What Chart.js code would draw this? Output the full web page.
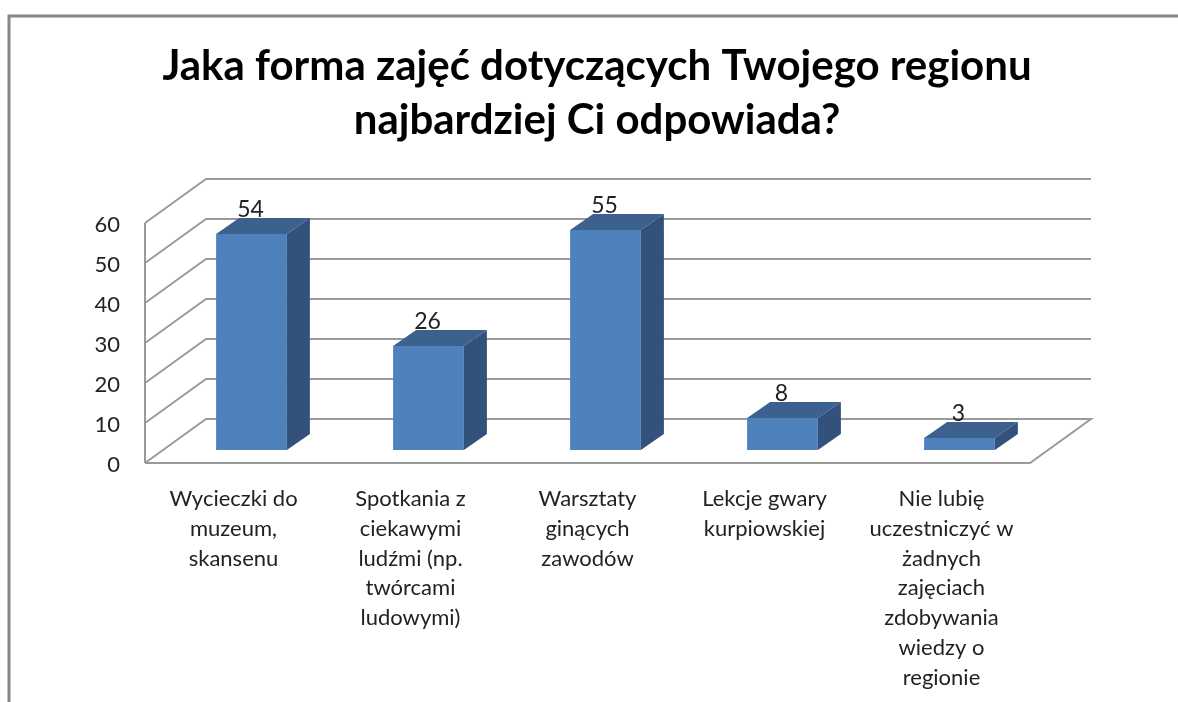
<!DOCTYPE html>
<html lang="pl">
<head>
<meta charset="utf-8">
<title>Jaka forma zajęć</title>
<style>html,body{margin:0;padding:0;background:#fff}canvas{display:block}</style>
<script src="https://cdn.jsdelivr.net/npm/chart.js@4"></script>
</head>
<body>
<canvas id="c" width="1178" height="702"></canvas>
<script>
const categories = [
  ["Wycieczki do", "muzeum,", "skansenu"],
  ["Spotkania z", "ciekawymi", "ludźmi (np.", "twórcami", "ludowymi)"],
  ["Warsztaty", "ginących", "zawodów"],
  ["Lekcje gwary", "kurpiowskiej"],
  ["Nie lubię", "uczestniczyć w", "żadnych", "zajęciach", "zdobywania", "wiedzy o", "regionie"]
];
const values = [54, 26, 55, 8, 3];
const titleLines = ["Jaka forma zajęć dotyczących Twojego regionu", "najbardziej Ci odpowiada?"];

const FONT = "Lato, 'Open Sans', sans-serif";
const GRID = "#9a9a9a", FRAME = "#868686";
const WALL = {dx: 61, dy: -44};
const BAR_SHIFT = {dx: 18, dy: -13};
const BAR_DEPTH = {dx: 23, dy: -16};

function poly(ctx, pts, fill) {
  ctx.beginPath();
  pts.forEach((p, i) => i ? ctx.lineTo(p[0], p[1]) : ctx.moveTo(p[0], p[1]));
  ctx.closePath();
  ctx.fillStyle = fill;
  ctx.fill();
}

const scene = {
  id: "scene",
  beforeDatasetsDraw(chart) {
    const {ctx, scales: {x, y}, chartArea: a} = chart;
    ctx.save();
    ctx.strokeStyle = FRAME; ctx.lineWidth = 3;
    ctx.beginPath(); ctx.moveTo(9, 702); ctx.lineTo(9, 16); ctx.lineTo(1178, 16); ctx.stroke();
    ctx.strokeStyle = GRID; ctx.lineWidth = 2;
    y.ticks.forEach(t => {
      const py = y.getPixelForValue(t.value);
      ctx.beginPath();
      ctx.moveTo(a.left, py);
      ctx.lineTo(a.left + WALL.dx, py + WALL.dy);
      ctx.lineTo(a.right + WALL.dx, py + WALL.dy);
      if (t.value === 0) { ctx.lineTo(a.right, py); ctx.lineTo(a.left, py); }
      ctx.stroke();
    });
    ctx.beginPath(); ctx.moveTo(a.left, a.top); ctx.lineTo(a.left, a.bottom); ctx.stroke();
    ctx.restore();
  },
  beforeDatasetDraw(chart, args) {
    const {ctx} = chart;
    ctx.save();
    ctx.translate(BAR_SHIFT.dx, BAR_SHIFT.dy);
    chart.getDatasetMeta(args.index).data.forEach(b => {
      const l = b.x - b.width / 2, r = b.x + b.width / 2, t = b.y, bt = b.base;
      const d = BAR_DEPTH;
      poly(ctx, [[l, t], [r, t], [r + d.dx, t + d.dy], [l + d.dx, t + d.dy]], "#3c618f");
      poly(ctx, [[r, t], [r + d.dx, t + d.dy], [r + d.dx, bt + d.dy], [r, bt]], "#32527c");
    });
  },
  afterDatasetDraw(chart, args) {
    const {ctx} = chart;
    ctx.restore();
    ctx.save();
    ctx.font = "23px " + FONT;
    ctx.fillStyle = "#222";
    ctx.textAlign = "center";
    ctx.textBaseline = "middle";
    chart.getDatasetMeta(args.index).data.forEach((b, i) => {
      ctx.fillText(String(values[i]), b.x + BAR_SHIFT.dx - 1, b.y + BAR_SHIFT.dy - 24);
    });
    ctx.restore();
  }
};

new Chart(document.getElementById("c"), {
  type: "bar",
  data: {
    labels: categories,
    datasets: [{
      data: values,
      backgroundColor: "#4f81bd",
      barPercentage: 0.4,
      categoryPercentage: 1,
      clip: false
    }]
  },
  plugins: [scene],
  options: {
    responsive: false,
    animation: false,
    layout: {padding: {left: 16, right: 0, top: 0, bottom: 0}},
    plugins: {
      legend: {display: false},
      tooltip: {enabled: false},
      title: {
        display: true,
        text: titleLines,
        color: "#000",
        font: {family: FONT, size: 42, weight: "bold", lineHeight: 54 / 42},
        padding: {top: 39, bottom: 76}
      }
    },
    scales: {
      x: {
        grid: {display: false},
        border: {display: false},
        ticks: {
          autoSkip: false, maxRotation: 0, minRotation: 0, padding: 13,
          color: "#222",
          font: {family: FONT, size: 22, lineHeight: 29.8 / 22}
        },
        afterFit(s) { s.height = 239; }
      },
      y: {
        min: 0, max: 60,
        grid: {display: false, drawTicks: false},
        border: {display: false},
        ticks: {
          stepSize: 10, padding: 25, labelOffset: 2, color: "#222",
          font: {family: FONT, size: 22}
        },
        afterFit(s) { s.width = 129; }
      },
      spacer: {
        position: "right",
        grid: {display: false, drawTicks: false},
        border: {display: false},
        ticks: {display: false},
        afterFit(s) { s.width = 148; }
      }
    }
  }
});
</script>
</body>
</html>
